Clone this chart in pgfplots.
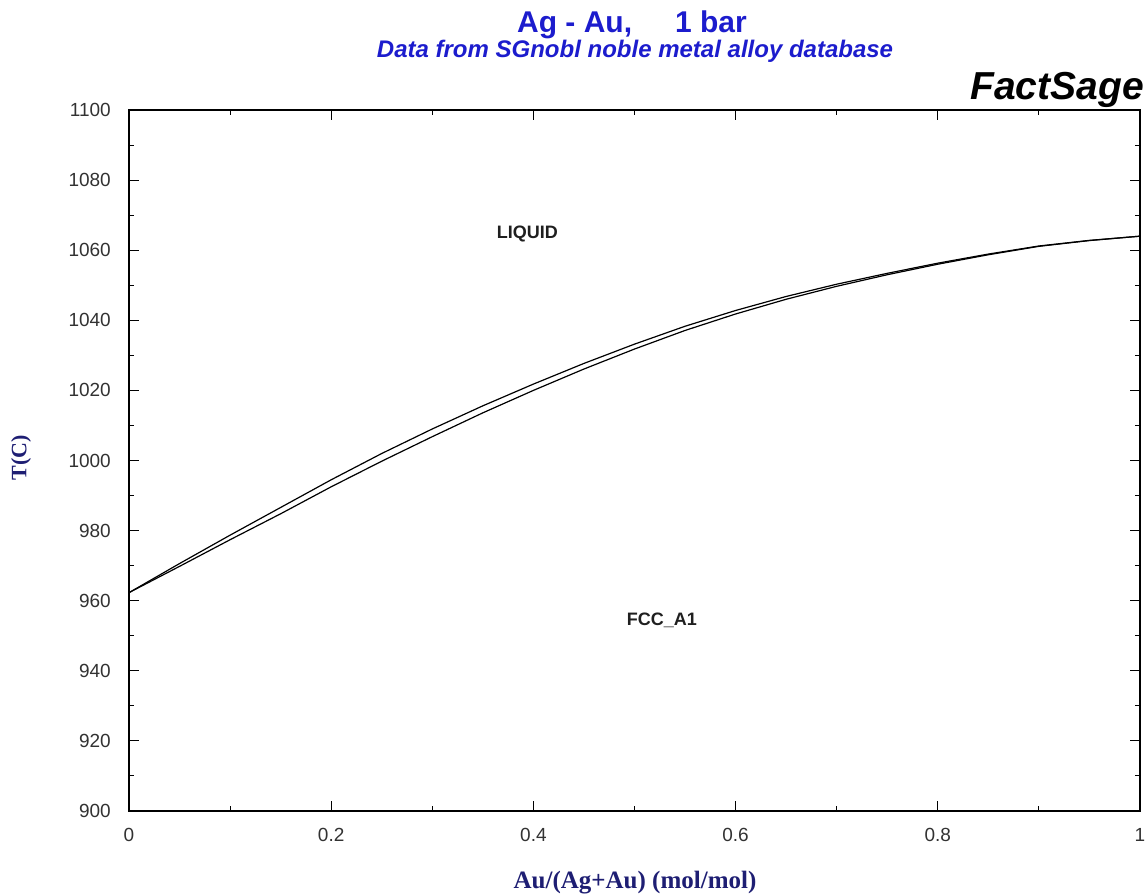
\documentclass[border=0pt]{standalone}
\usepackage{pgfplots}
\pgfplotsset{compat=1.18}
\usepackage{fontspec}
\setmainfont{Liberation Sans}
\newfontfamily\serifbf{Liberation Serif}
\definecolor{titleblue}{RGB}{28,28,205}
\definecolor{labelnavy}{RGB}{30,30,115}
\definecolor{tickgray}{RGB}{50,50,50}

% Ag-Au phase boundaries, T in degrees C versus x(Au)
\pgfplotstableread{
x     T
0.00  962.3
0.05  970.6
0.10  978.7
0.15  986.6
0.20  994.5
0.25  1002.0
0.30  1009.0
0.35  1015.6
0.40  1021.8
0.45  1027.7
0.50  1033.2
0.55  1038.3
0.60  1042.8
0.65  1046.8
0.70  1050.3
0.75  1053.4
0.80  1056.3
0.85  1058.9
0.90  1061.2
0.95  1062.8
1.00  1064.0
}\liquidus
\pgfplotstableread{
x     T
0.00  962.3
0.05  969.8
0.10  977.4
0.15  984.8
0.20  992.5
0.25  999.8
0.30  1006.8
0.35  1013.6
0.40  1020.0
0.45  1026.1
0.50  1031.8
0.55  1037.1
0.60  1041.8
0.65  1046.0
0.70  1049.7
0.75  1053.0
0.80  1056.0
0.85  1058.7
0.90  1061.1
0.95  1062.75
1.00  1064.0
}\solidus

\begin{document}
\begin{tikzpicture}[x=1pt,y=1pt]
\useasboundingbox (0,0) rectangle (1147,895);
\begin{axis}[
  at={(129pt,84pt)}, anchor=south west,
  scale only axis, width=1011pt, height=701pt,
  xmin=0, xmax=1, ymin=900, ymax=1100,
  xtick={0,0.2,0.4,0.6,0.8,1},
  xticklabels={0,0.2,0.4,0.6,0.8,1},
  ytick={900,920,...,1100},
  minor x tick num=1, minor y tick num=1,
  tick align=inside,
  major tick length=10pt, minor tick length=5pt,
  every tick/.style={black, line width=1pt},
  axis line style={line width=1.6pt},
  /pgf/number format/1000 sep={},
  /pgf/number format/assume math mode=true,
  tick label style={font=\fontsize{19}{21}\selectfont, text=tickgray, inner sep=0pt},
  yticklabel style={anchor=east, xshift=-18pt},
  xticklabel style={anchor=north, yshift=-17pt},
  clip=false,
]
\addplot[black, line width=1.2pt] table[x=x, y=T] {\liquidus};
\addplot[black, line width=1.2pt] table[x=x, y=T] {\solidus};
\node[font=\bfseries\fontsize{18}{20}\selectfont, text=black!88] at (axis cs:0.394,1064.6) {LIQUID};
\node[font=\bfseries\fontsize{18}{20}\selectfont, text=black!88] at (axis cs:0.527,954.5) {FCC\_A1};
\end{axis}
% titles and axis labels
\node[font=\bfseries\fontsize{30}{32}\selectfont, text=titleblue, anchor=base] at (632,862) {Ag - Au,\hspace{43pt}1 bar};
\node[font=\bfseries\itshape\fontsize{24}{26}\selectfont, text=titleblue, anchor=base] at (635,837) {Data from SGnobl noble metal alloy database};
\node[font=\bfseries\itshape\fontsize{39}{41}\selectfont, anchor=base east, inner sep=0pt] at (1144,795) {FactSage};
\node[font=\serifbf\bfseries\fontsize{25}{27}\selectfont, text=labelnavy, anchor=base] at (635,7) {Au/(Ag+Au) (mol/mol)};
\node[font=\serifbf\bfseries\fontsize{22}{24}\selectfont, text=labelnavy, rotate=90] at (21,437) {T(C)};
\end{tikzpicture}
\end{document}
